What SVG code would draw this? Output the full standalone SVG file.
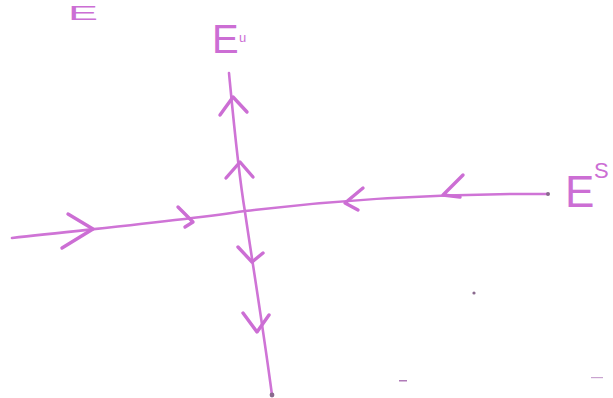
<svg xmlns="http://www.w3.org/2000/svg" width="613" height="398" viewBox="0 0 613 398">
<style>
.ln{fill:none;stroke:#cf74d6;stroke-width:2.6;stroke-linecap:round;stroke-linejoin:round}
.ar{fill:none;stroke:#cc6ed4;stroke-width:3.4;stroke-linecap:round;stroke-linejoin:round}
.lb{font-family:"Liberation Sans",Arial,sans-serif;fill:#cc6ed4;font-weight:normal}
</style>
<rect width="613" height="398" fill="#ffffff"/>
<g id="connectors">
<path class="ln" d="M12,238 C90,229 180,221 245,211 C320,202 420,193 548,194"/>
<path class="ln" d="M229,73 C233,115 238,170 245,212 C252,260 262,320 272,395"/>
<path class="ar" d="M68,214 L93,229 L62,248"/>
<path class="ar" d="M178,207 L193,222 L185,227"/>
<path class="ar" d="M363,188 L345,203 L358,210"/>
<path class="ar" d="M463,175 L443,195 L460,197"/>
<path class="ar" d="M220,115 L233,97 L247,112"/>
<path class="ar" d="M226,178 L240,162 L253,177"/>
<path class="ar" d="M238,247 L252,262 L263,253"/>
<path class="ar" d="M243,313 L257,332 L269,315"/>
</g>
<g id="node-E"><text class="lb" x="68" y="20" font-size="20" textLength="30" lengthAdjust="spacingAndGlyphs">E</text></g>
<g id="node-Eu"><text class="lb" x="212" y="53" font-size="40">E</text><text class="lb" x="239" y="42" font-size="13">u</text></g>
<g id="node-Es"><text class="lb" x="565" y="207" font-size="44">E</text><text class="lb" x="594" y="178" font-size="22">S</text></g>
<g id="specks" fill="#8a6a8e">
<circle cx="474" cy="293" r="1.6"/>
<rect x="399" y="380" width="8" height="1.5" fill="#b07ab8"/>
<rect x="591" y="377" width="12" height="1.2" fill="#c9a3cf"/>
<circle cx="548" cy="194" r="2"/>
<circle cx="272" cy="395" r="2.4"/>
</g>
</svg>
